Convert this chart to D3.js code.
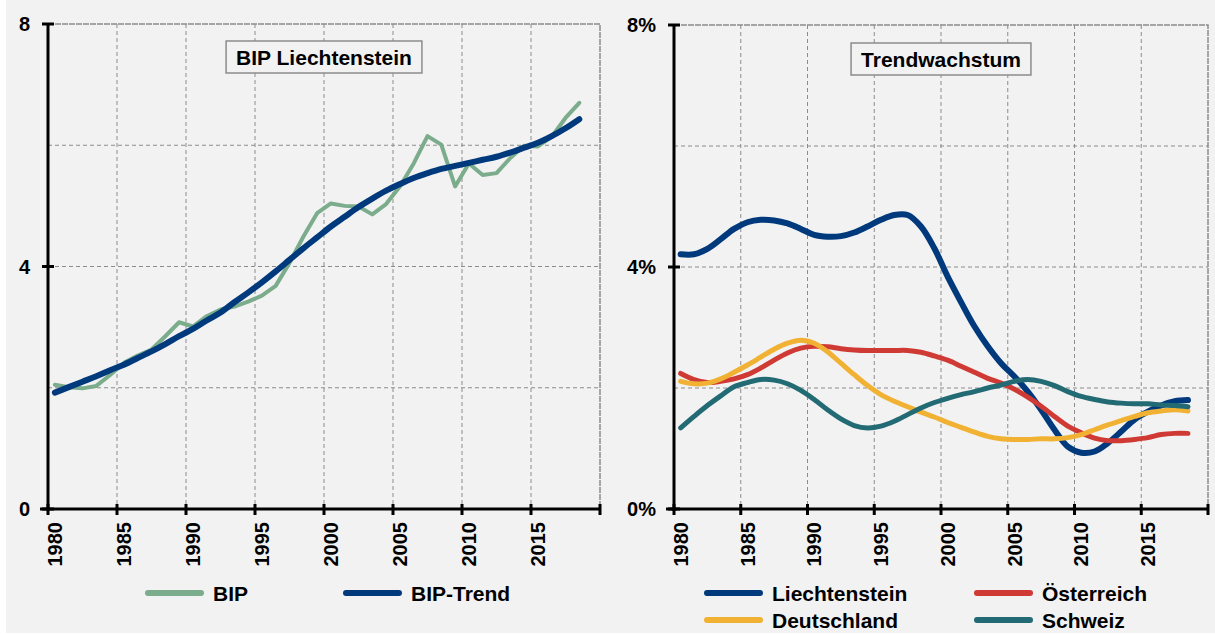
<!DOCTYPE html>
<html>
<head>
<meta charset="utf-8">
<script src="https://cdn.jsdelivr.net/npm/d3@7"></script>
<style>
  body { margin: 0; background: #ffffff; }
  text { font-family: "Liberation Sans", Arial, sans-serif; font-weight: bold; fill: #000; }
</style>
</head>
<body>
<script>
// categories
const years = d3.range(1980, 2019);
const xTickYears = [1980, 1985, 1990, 1995, 2000, 2005, 2010, 2015];

// left panel: BIP Liechtenstein
const bip = [2.05, 2.01, 1.99, 2.03, 2.21, 2.41, 2.53, 2.63, 2.85, 3.08,
             3.01, 3.18, 3.29, 3.34, 3.42, 3.52, 3.68, 4.06, 4.49, 4.88,
             5.04, 5.00, 4.99, 4.86, 5.03, 5.32, 5.70, 6.15, 6.01, 5.32,
             5.70, 5.51, 5.54, 5.79, 5.99, 5.98, 6.14, 6.45, 6.70];
const bipTrend = [1.92, 2.01, 2.10, 2.19, 2.29, 2.38, 2.49, 2.60, 2.72, 2.85,
                  2.97, 3.11, 3.24, 3.41, 3.57, 3.74, 3.92, 4.11, 4.30, 4.48,
                  4.66, 4.82, 4.98, 5.12, 5.25, 5.36, 5.46, 5.54, 5.61, 5.66,
                  5.71, 5.76, 5.81, 5.88, 5.96, 6.04, 6.15, 6.28, 6.43];
const leftTicks = [0, 4, 8];
const leftTickLabels = ["0", "4", "8"];

// right panel: Trendwachstum (%)
const trendLie = [4.21, 4.21, 4.30, 4.46, 4.63, 4.74, 4.78, 4.77, 4.72, 4.63,
                  4.53, 4.50, 4.51, 4.57, 4.67, 4.78, 4.86, 4.86, 4.67, 4.31,
                  3.84, 3.42, 3.02, 2.69, 2.41, 2.19, 1.94, 1.64, 1.31, 1.03,
                  0.93, 0.95, 1.09, 1.28, 1.48, 1.61, 1.71, 1.78, 1.80];
const trendAut = [2.24, 2.14, 2.09, 2.11, 2.15, 2.22, 2.33, 2.46, 2.58, 2.66,
                  2.69, 2.68, 2.65, 2.63, 2.62, 2.62, 2.62, 2.62, 2.59, 2.53,
                  2.46, 2.36, 2.26, 2.16, 2.08, 1.98, 1.85, 1.70, 1.53, 1.37,
                  1.26, 1.17, 1.13, 1.13, 1.15, 1.18, 1.23, 1.25, 1.25];
const trendDeu = [2.11, 2.07, 2.08, 2.15, 2.26, 2.38, 2.51, 2.64, 2.74, 2.79,
                  2.74, 2.60, 2.41, 2.22, 2.04, 1.89, 1.78, 1.69, 1.60, 1.52,
                  1.43, 1.35, 1.27, 1.20, 1.16, 1.15, 1.15, 1.16, 1.16, 1.18,
                  1.23, 1.31, 1.39, 1.46, 1.53, 1.59, 1.62, 1.64, 1.62];
const trendChe = [1.34, 1.53, 1.71, 1.87, 2.02, 2.09, 2.14, 2.13, 2.07, 1.96,
                  1.81, 1.64, 1.49, 1.38, 1.34, 1.37, 1.45, 1.56, 1.67, 1.76,
                  1.83, 1.89, 1.94, 2.00, 2.05, 2.11, 2.14, 2.11, 2.04, 1.94,
                  1.86, 1.81, 1.77, 1.75, 1.74, 1.74, 1.72, 1.71, 1.69];
const rightTicks = [0, 4, 8];
const rightTickLabels = ["0%", "4%", "8%"];

const svg = d3.select("body").append("svg")
    .attr("width", 1215)
    .attr("height", 634);

svg.append("rect")
    .attr("x", 6).attr("y", 0)
    .attr("width", 1209).attr("height", 633)
    .attr("fill", "#f2f2f2");

function drawPanel(p) {
  const x = d3.scaleLinear().domain([1980, 2020]).range([p.left, p.right]);
  const y = d3.scaleLinear().domain([0, 8]).range([p.bottom, p.top]);
  const g = svg.append("g");

  // gridlines
  g.selectAll(".vgrid")
    .data(xTickYears.slice(1))
    .enter().append("line")
    .attr("x1", d => x(d)).attr("x2", d => x(d))
    .attr("y1", p.top).attr("y2", p.bottom)
    .attr("stroke", "#8c8c8c").attr("stroke-width", 1)
    .attr("stroke-dasharray", "4,3");
  g.selectAll(".hgrid")
    .data([2, 4, 6])
    .enter().append("line")
    .attr("x1", p.left).attr("x2", p.right)
    .attr("y1", d => y(d)).attr("y2", d => y(d))
    .attr("stroke", "#8c8c8c").attr("stroke-width", 1)
    .attr("stroke-dasharray", "4,3");

  // plot border top / right
  g.append("path")
    .attr("d", "M" + p.left + "," + y(8) + "H" + x(2020) + "V" + p.bottom)
    .attr("fill", "none")
    .attr("stroke", "#8c8c8c").attr("stroke-width", 1.5)
    .attr("stroke-dasharray", "6,1");

  // series
  p.series.forEach(function(s) {
    const line = d3.line()
      .x((d, i) => x(years[i] + 0.5))
      .y(d => y(d))
      .curve(s.smooth ? d3.curveCatmullRom.alpha(0.5) : d3.curveLinear);
    g.append("path")
      .datum(s.values)
      .attr("d", line)
      .attr("fill", "none")
      .attr("stroke", s.color)
      .attr("stroke-width", s.width)
      .attr("stroke-linejoin", "round")
      .attr("stroke-linecap", "round");
  });

  // axes
  const xAxis = g.append("g").attr("transform", "translate(0," + p.bottom + ")");
  xAxis.append("line")
    .attr("x1", p.left - 8).attr("x2", x(2020))
    .attr("stroke", "#000").attr("stroke-width", 3);
  xAxis.selectAll(".tick")
    .data(xTickYears.concat([2020]))
    .enter().append("line")
    .attr("x1", d => x(d)).attr("x2", d => x(d))
    .attr("y1", -5).attr("y2", 6)
    .attr("stroke", "#000").attr("stroke-width", 3);
  xAxis.selectAll(".lab")
    .data(xTickYears)
    .enter().append("text")
    .attr("transform", d => "translate(" + x(d + 0.5) + ",13) rotate(-90)")
    .attr("text-anchor", "end")
    .attr("dy", "0.36em")
    .style("font-size", "20px")
    .text(d => d);

  const yAxis = g.append("g").attr("transform", "translate(" + p.left + ",0)");
  yAxis.append("line")
    .attr("y1", p.top).attr("y2", p.bottom + 2)
    .attr("stroke", "#000").attr("stroke-width", 3);
  yAxis.selectAll(".tick")
    .data(p.ticks)
    .enter().append("line")
    .attr("x1", -6).attr("x2", 6)
    .attr("y1", d => y(d)).attr("y2", d => y(d))
    .attr("stroke", "#000").attr("stroke-width", 3);
  yAxis.selectAll(".lab")
    .data(p.ticks)
    .enter().append("text")
    .attr("x", -18)
    .attr("y", d => y(d))
    .attr("dy", "0.36em")
    .attr("text-anchor", "end")
    .style("font-size", "20px")
    .text((d, i) => p.tickLabels[i]);

  // title box
  const cx = (p.left + x(2020)) / 2;
  const box = g.append("rect");
  const title = g.append("text")
    .attr("x", cx).attr("y", p.titleY)
    .attr("text-anchor", "middle")
    .attr("dy", "0.36em")
    .style("font-size", "21px")
    .text(p.title);
  const bb = title.node().getBBox();
  box.attr("x", bb.x - 10).attr("y", p.titleY - 16)
    .attr("width", bb.width + 20).attr("height", 32)
    .attr("fill", "#f2f2f2")
    .attr("stroke", "#8c8c8c").attr("stroke-width", 1.5);

  // legend
  const leg = g.selectAll(".legend")
    .data(p.legend)
    .enter().append("g")
    .attr("transform", d => "translate(" + d.x + "," + d.y + ")");
  leg.append("line")
    .attr("x1", 0).attr("x2", 53)
    .attr("stroke", d => d.color)
    .attr("stroke-width", 6)
    .attr("stroke-linecap", "round");
  leg.append("text")
    .attr("x", 65)
    .attr("dy", "0.36em")
    .style("font-size", "21px")
    .text(d => d.name);
}

drawPanel({
  left: 48, right: 600, top: 24, bottom: 509,
  ticks: leftTicks, tickLabels: leftTickLabels,
  title: "BIP Liechtenstein", titleY: 57,
  series: [
    {values: bip, color: "#7bac8c", width: 4, smooth: false},
    {values: bipTrend, color: "#003a7d", width: 6, smooth: true}
  ],
  legend: [
    {name: "BIP", color: "#7bac8c", x: 148, y: 593},
    {name: "BIP-Trend", color: "#003a7d", x: 346, y: 593}
  ]
});

drawPanel({
  left: 674, right: 1208, top: 25, bottom: 509,
  ticks: rightTicks, tickLabels: rightTickLabels,
  title: "Trendwachstum", titleY: 59,
  series: [
    {values: trendLie, color: "#003a7d", width: 6, smooth: true},
    {values: trendAut, color: "#cf3a34", width: 5, smooth: true},
    {values: trendDeu, color: "#f1b133", width: 5, smooth: true},
    {values: trendChe, color: "#226a74", width: 5, smooth: true}
  ],
  legend: [
    {name: "Liechtenstein", color: "#003a7d", x: 707, y: 593},
    {name: "Österreich", color: "#cf3a34", x: 977, y: 593},
    {name: "Deutschland", color: "#f1b133", x: 707, y: 620},
    {name: "Schweiz", color: "#226a74", x: 977, y: 620}
  ]
});
</script>
</body>
</html>
